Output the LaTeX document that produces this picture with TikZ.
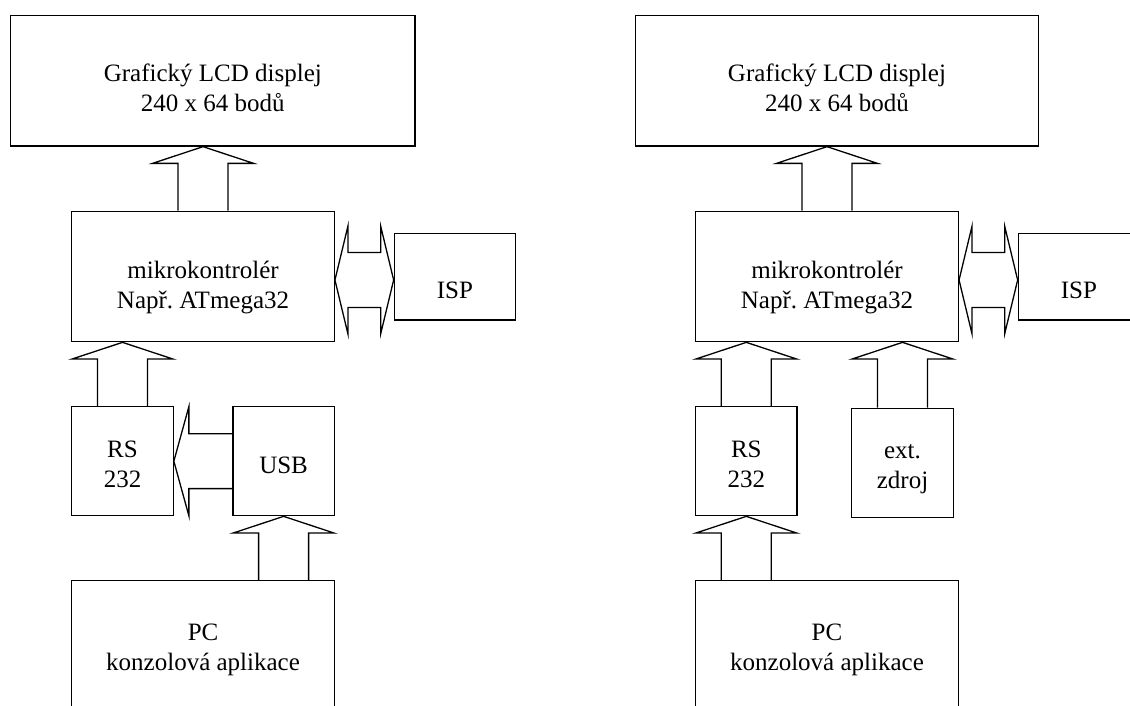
\documentclass[tikz,border=0pt]{standalone}
\usepackage{fontspec}
\setmainfont{Liberation Serif}
\usetikzlibrary{calc}
\newcommand\diagfont{\fontsize{25}{30}\selectfont\frenchspacing}
\tikzset{
  box/.style={draw, line width=1.3pt, inner sep=0pt, align=center, font=\diagfont},
  openbox/.style={inner sep=0pt, align=center, font=\diagfont},
  blk/.style={line width=1.3pt, line join=miter},
  side/.style={line width=1.3pt}
}
\newcommand\blkup[2]{%
  \draw[blk] let \p1=(#1.north), \p2=(#2.south) in
  (\x1-25pt,\y1) -- (\x1-25pt,\y2-16.7pt) -- (\x1-50.5pt,\y2-16.7pt) -- (\x1,\y2)
  -- (\x1+50.5pt,\y2-16.7pt) -- (\x1+25pt,\y2-16.7pt) -- (\x1+25pt,\y1);}
\newcommand\blkleft[2]{%
  \draw[blk] let \p1=(#1.west), \p2=(#2.east) in
  (\x1,\y1+27.4pt) -- (\x2+15pt,\y1+27.4pt) -- (\x2+15pt,\y1+54.5pt) -- (\x2,\y1)
  -- (\x2+15pt,\y1-54.5pt) -- (\x2+15pt,\y1-27.4pt) -- (\x1,\y1-27.4pt);}
\newcommand\blkboth[2]{%
  \draw[blk] let \p1=($(#1.east)+(0,3.5)$), \p2=(#2.west) in
  (\x1,\y1) -- (\x1+13pt,\y1+54pt) -- (\x1+13pt,\y1+27.5pt) -- (\x2-13pt,\y1+27.5pt)
  -- (\x2-13pt,\y1+54pt) -- (\x2,\y1) -- (\x2-13pt,\y1-54pt) -- (\x2-13pt,\y1-27.5pt)
  -- (\x1+13pt,\y1-27.5pt) -- (\x1+13pt,\y1-54pt) -- cycle;}
\begin{document}
\begin{tikzpicture}[x=1pt,y=-1pt]
\clip (0,0) rectangle (1130,705);
\fill[white] (0,0) rectangle (1130,705);
% ---------- left diagram ----------
\node[box, minimum width=404.3pt, minimum height=130.7pt, text height=96.4pt, text depth=34.3pt]
  (lcdL) at (212.85,80.65) {Grafický LCD displej\\240 x 64 bodů};
\node[box, minimum width=262.5pt, minimum height=130.4pt, text height=97pt, text depth=33.4pt]
  (mcuL) at (203.05,276.5) {mikrokontrolér\\Např. ATmega32};
\node[box, minimum width=121.1pt, minimum height=86.7pt, text height=65pt, text depth=21.7pt]
  (ispL) at (454.85,276.65) {ISP};
\node[box, minimum width=101.4pt, minimum height=109pt, text height=80.5pt, text depth=28.5pt]
  (rsL) at (122.5,461.2) {RS\\232};
\node[box, minimum width=101.4pt, minimum height=109pt, text height=66.6pt, text depth=42.4pt]
  (usbL) at (283.6,461.2) {USB};
\node[openbox, minimum width=262.5pt, minimum height=137pt, text height=89pt, text depth=48pt]
  (pcL) at (203.05,649.5) {PC\\konzolová aplikace};
\draw[side] (pcL.south west) -- (pcL.north west) -- (pcL.north east) -- (pcL.south east);
\blkup{mcuL}{lcdL}
\blkboth{mcuL}{ispL}
\blkup{rsL}{mcuL}
\blkleft{usbL}{rsL}
\blkup{pcL.north -| usbL}{usbL}
% ---------- right diagram ----------
\node[box, minimum width=403.5pt, minimum height=130.7pt, text height=96.4pt, text depth=34.3pt]
  (lcdR) at (836.95,80.65) {Grafický LCD displej\\240 x 64 bodů};
\node[box, minimum width=262.8pt, minimum height=130.4pt, text height=97pt, text depth=33.4pt]
  (mcuR) at (827,276.5) {mikrokontrolér\\Např. ATmega32};
\node[box, minimum width=121.1pt, minimum height=86.7pt, text height=65pt, text depth=21.7pt]
  (ispR) at (1078.85,276.65) {ISP};
\node[box, minimum width=101.4pt, minimum height=109pt, text height=80.5pt, text depth=28.5pt]
  (rsR) at (746.3,461.2) {RS\\232};
\node[box, minimum width=101.6pt, minimum height=109pt, text height=80.5pt, text depth=28.5pt]
  (extR) at (902.5,462.8) {ext.\\zdroj};
\node[openbox, minimum width=262.8pt, minimum height=137pt, text height=89pt, text depth=48pt]
  (pcR) at (827,649.5) {PC\\konzolová aplikace};
\draw[side] (pcR.south west) -- (pcR.north west) -- (pcR.north east) -- (pcR.south east);
\blkup{mcuR}{lcdR}
\blkboth{mcuR}{ispR}
\blkup{rsR}{mcuR}
\blkup{extR}{mcuR}
\blkup{pcR.north -| rsR}{rsR}
\end{tikzpicture}
\end{document}
